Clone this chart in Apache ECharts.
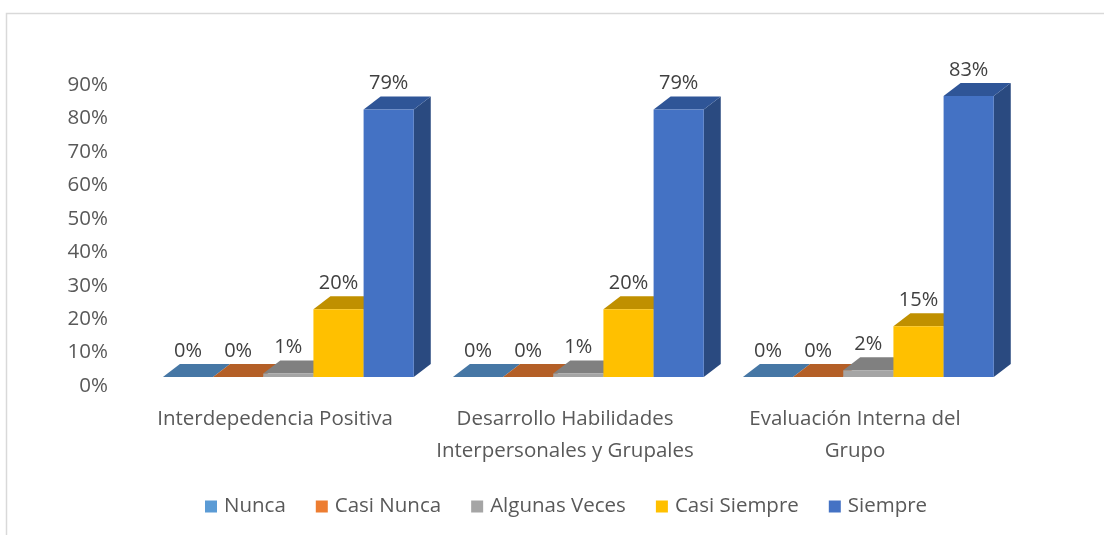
<!DOCTYPE html>
<html>
<head>
<meta charset="utf-8">
<script src="https://cdn.jsdelivr.net/npm/echarts@6/dist/echarts.min.js"></script>
<style>
  html, body { margin: 0; padding: 0; background: #fff; }
  #chart-container { width: 1104px; height: 535px; }
</style>
</head>
<body>
<div id="chart-container"></div>
<script>
// data
const categories = ['Interdepedencia Positiva', 'Desarrollo Habilidades\nInterpersonales y Grupales', 'Evaluación Interna del\nGrupo'];
const nunca = [0, 0, 0];
const casiNunca = [0, 0, 0];
const algunasVeces = [1, 1, 2];
const casiSiempre = [20, 20, 15];
const siempre = [79, 79, 83];
const yTicks = [0, 10, 20, 30, 40, 50, 60, 70, 80, 90];

const seriesDefs = [
  { name: 'Nunca', data: nunca, front: '#5B9BD5', top: '#4677A5', side: '#3D6A94' },
  { name: 'Casi Nunca', data: casiNunca, front: '#ED7D31', top: '#B45F27', side: '#AE5A21' },
  { name: 'Algunas Veces', data: algunasVeces, front: '#A5A5A5', top: '#808080', side: '#787878' },
  { name: 'Casi Siempre', data: casiSiempre, front: '#FFC000', top: '#C09000', side: '#B38600' },
  { name: 'Siempre', data: siempre, front: '#4472C4', top: '#2F5597', side: '#2A4A80' }
];

const FONT = '"Open Sans"';

const chartContainer = document.getElementById('chart-container');
const myChart = echarts.init(chartContainer, null, { renderer: 'canvas' });

// fake 3D column: right side, top face, front face + value label
function make3d(idx, def) {
  return function (params, api) {
    const cat = api.value(0);
    const v = api.value(1);
    const base = api.coord([cat, 0]);
    const top = api.coord([cat, v]);
    const band = api.size([1, 0])[0];
    const w = band * 0.173;
    const x0 = base[0] + band * 0.046 - 2.5 * w + idx * w;
    const x1 = x0 + w;
    const yb = base[1] - 9;
    const yt = yb - (base[1] - top[1]) * 1.012;
    const dx = 17, dy = -13;
    return {
      type: 'group',
      children: [
        { type: 'polygon', shape: { points: [[x1, yb], [x1 + dx, yb + dy], [x1 + dx, yt + dy], [x1, yt]] }, style: { fill: def.side } },
        { type: 'polygon', shape: { points: [[x0, yt], [x0 + dx, yt + dy], [x1 + dx, yt + dy], [x1, yt]] }, style: { fill: def.top } },
        { type: 'rect', shape: { x: x0, y: yt, width: w, height: yb - yt }, style: { fill: def.front } },
        {
          type: 'text',
          x: (x0 + x1) / 2, y: yt - 26,
          style: {
            text: v + '%', fill: '#404040', font: '20px ' + FONT,
            align: 'center', verticalAlign: 'middle'
          }
        }
      ]
    };
  };
}

let option = {
  animation: false,
  backgroundColor: '#fff',
  textStyle: { fontFamily: 'Open Sans' },
  graphic: [{
    type: 'rect', left: 4, top: 11, silent: true,
    shape: { width: 1200, height: 600 },
    style: { fill: 'none', stroke: '#D9D9D9', lineWidth: 1.5 }
  }],
  legend: {
    left: 205, top: 496, padding: 0,
    itemWidth: 12, itemHeight: 12, itemGap: 30,
    icon: 'rect',
    textStyle: { color: '#595959', fontSize: 20.5, fontFamily: 'Open Sans', padding: [0, 0, 0, 2] },
    data: seriesDefs.map(d => d.name)
  },
  grid: { left: 130, right: 104, top: 85, bottom: 149 },
  xAxis: {
    type: 'category',
    data: categories,
    axisLine: { show: false },
    axisTick: { show: false },
    axisLabel: { color: '#595959', fontSize: 20.5, margin: 17, lineHeight: 32, interval: 0 }
  },
  yAxis: {
    type: 'value',
    min: yTicks[0], max: yTicks[yTicks.length - 1], interval: 10,
    splitLine: { show: false },
    axisLine: { show: false },
    axisLabel: { color: '#595959', fontSize: 20.5, margin: 22, formatter: '{value}%' }
  },
  series: seriesDefs.map((d, i) => ({
    name: d.name,
    type: 'custom',
    itemStyle: { color: d.front },
    renderItem: make3d(i, d),
    data: d.data.map((v, j) => [j, v])
  }))
};

if (option && typeof option === 'object') {
  myChart.setOption(option);
}
window.addEventListener('resize', myChart.resize);
</script>
</body>
</html>
